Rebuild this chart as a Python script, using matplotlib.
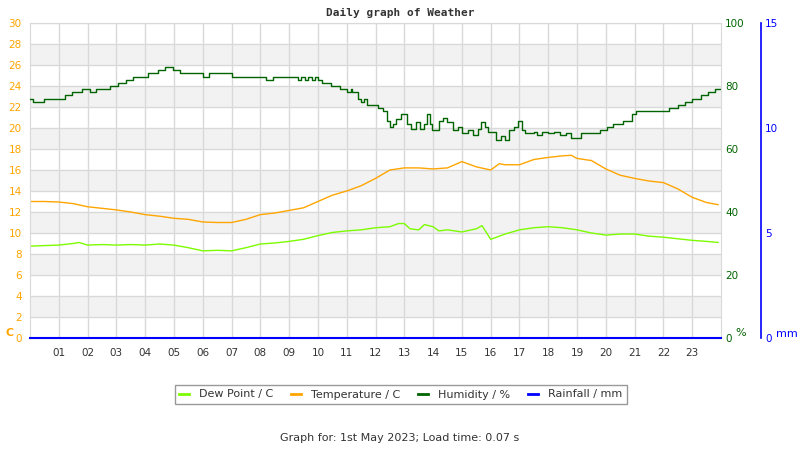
import matplotlib
matplotlib.use('Agg')
import matplotlib.pyplot as plt
from matplotlib.lines import Line2D

# dane
horas_temp = [0, 0.5, 1, 1.5, 2, 2.5, 3, 3.5, 4, 4.5, 5, 5.5, 6, 6.5, 7, 7.5, 8, 8.5,
              9, 9.5, 10, 10.5, 11, 11.5, 12, 12.5, 13, 13.5, 14, 14.5, 15, 15.5, 16,
              16.3, 16.5, 17, 17.5, 18, 18.5, 18.8, 19, 19.5, 20, 20.5, 21, 21.5, 22,
              22.5, 23, 23.5, 23.9]
temperatura = [13.0, 13.0, 12.95, 12.8, 12.5, 12.35, 12.2, 12.0, 11.75, 11.6, 11.4, 11.3,
               11.05, 11.0, 11.0, 11.3, 11.75, 11.9, 12.15, 12.4, 13.0, 13.6, 14.0, 14.5,
               15.2, 16.0, 16.2, 16.2, 16.1, 16.2, 16.8, 16.3, 16.0, 16.6, 16.5, 16.5,
               17.0, 17.2, 17.35, 17.4, 17.1, 16.9, 16.1, 15.5, 15.2, 14.95, 14.8, 14.2,
               13.4, 12.9, 12.7]

horas_rocio = [0, 0.5, 1, 1.5, 1.7, 2, 2.5, 3, 3.5, 4, 4.5, 5, 5.5, 6, 6.5, 7, 7.5, 8,
               8.5, 9, 9.5, 10, 10.5, 11, 11.5, 12, 12.5, 12.8, 13, 13.2, 13.5, 13.7, 14,
               14.2, 14.5, 15, 15.5, 15.7, 16, 16.5, 17, 17.5, 18, 18.5, 19, 19.5, 20,
               20.5, 21, 21.5, 22, 22.5, 23, 23.5, 23.9]
punto_rocio = [8.75, 8.8, 8.85, 9.0, 9.1, 8.85, 8.9, 8.85, 8.9, 8.85, 8.95, 8.85, 8.6,
               8.3, 8.35, 8.3, 8.6, 8.95, 9.05, 9.2, 9.4, 9.75, 10.05, 10.2, 10.3, 10.5,
               10.6, 10.9, 10.9, 10.4, 10.3, 10.8, 10.6, 10.2, 10.3, 10.1, 10.4, 10.7,
               9.4, 9.9, 10.3, 10.5, 10.6, 10.5, 10.3, 10.0, 9.8, 9.9, 9.9, 9.7, 9.6,
               9.45, 9.3, 9.2, 9.1]

horas_humedad = [0, 0.1, 0.5, 1.2, 1.47, 1.82, 2.1, 2.3, 2.78, 3.04, 3.32, 3.59, 4.11,
                 4.43, 4.69, 4.98, 5.21, 6.0, 6.2, 7.0, 8.2, 8.45, 9.3, 9.4, 9.55, 9.65,
                 9.8, 9.9, 10.0, 10.14, 10.44, 10.76, 11.0, 11.15, 11.2, 11.4, 11.5, 11.6,
                 11.7, 12.1, 12.25, 12.4, 12.5, 12.6, 12.7, 12.9, 13.1, 13.25, 13.4,
                 13.55, 13.7, 13.8, 13.9, 13.95, 14.2, 14.35, 14.5, 14.7, 14.85, 15.0,
                 15.2, 15.4, 15.55, 15.65, 15.8, 15.9, 16.2, 16.35, 16.5, 16.65, 16.8,
                 16.95, 17.1, 17.2, 17.5, 17.6, 17.8, 18.0, 18.2, 18.4, 18.6, 18.8,
                 19.15, 19.8, 20.05, 20.25, 20.6, 20.9, 21.05, 22.2, 22.5, 22.75, 23.0,
                 23.3, 23.55, 23.8, 24.0]
humedad = [76, 75, 76, 77, 78, 79, 78, 79, 80, 81, 82, 83, 84, 85, 86, 85, 84, 83, 84,
           83, 82, 83, 82, 83, 82, 83, 82, 83, 82, 81, 80, 79, 78, 79, 78, 76, 75, 76,
           74, 73, 72, 69, 67, 68, 69.5, 71, 68, 66.5, 68.5, 66.5, 68, 71, 68, 66, 69,
           70, 68.5, 66, 67, 65, 66, 64.5, 66.5, 68.5, 67, 65.5, 63, 64, 63, 66, 67,
           69, 66, 65, 65.5, 64.5, 65.5, 65, 65.5, 64.5, 65, 63.5, 65, 66, 67, 68, 69,
           71, 72, 73, 74, 75, 76, 77, 78, 79, 79]

horas_lluvia = [0, 6, 12, 18, 24]
lluvia = [0, 0, 0, 0, 0]

etiquetas_horas = ['%02d' % h for h in range(1, 24)]

NARANJA = '#ffa500'
VERDE_OSCURO = '#006400'
VERDE_CLARO = '#7cfc00'
AZUL = '#0000ff'
GRIS_TXT = '#333333'
GRILLA = '#d9d9d9'


def main():
    plt.rcParams['font.family'] = 'DejaVu Sans'
    fig = plt.figure(figsize=(8, 4.5), dpi=100)
    ax = fig.add_axes([30 / 800, 1 - 338 / 450, 691 / 800, 315 / 450])

    # bandas alternadas y grilla
    for y0 in range(2, 30, 4):
        ax.axhspan(y0, y0 + 2, color='#f2f2f2', zorder=0, lw=0)
    for y in range(2, 31, 2):
        ax.axhline(y, color=GRILLA, lw=1, zorder=0.5)
    for h in range(1, 24):
        ax.axvline(h, color=GRILLA, lw=1, zorder=0.5)

    ax.plot(horas_rocio, punto_rocio, color=VERDE_CLARO, lw=1, zorder=2)
    ax.plot(horas_temp, temperatura, color=NARANJA, lw=1, zorder=2)
    ax.set_xlim(0, 24)
    ax.set_ylim(0, 30)
    ax.set_yticks(range(0, 31, 2))
    ax.set_xticks(range(1, 24))
    ax.set_xticklabels(etiquetas_horas)
    ax.tick_params(axis='x', length=0, pad=7, labelsize=7.5, labelcolor=GRIS_TXT)
    ax.tick_params(axis='y', length=0, pad=6, labelsize=7.5, labelcolor=NARANJA)
    for lado in ['left', 'top', 'right', 'bottom']:
        ax.spines[lado].set_color(GRILLA)
    fig.text(5 / 800, 1 - 333 / 450, 'C', color=NARANJA, fontsize=8,
             fontweight='bold', va='center')

    ax2 = ax.twinx()
    ax2.step(horas_humedad, humedad, where='post', color=VERDE_OSCURO, lw=1, zorder=3)
    ax2.set_ylim(0, 100)
    ax2.set_yticks(range(0, 101, 20))
    ax2.tick_params(axis='y', length=0, pad=3, labelsize=7.5, labelcolor=VERDE_OSCURO)
    for lado in ['left', 'top', 'right', 'bottom']:
        ax2.spines[lado].set_visible(False)
    fig.text(735 / 800, 1 - 333 / 450, '%', color=VERDE_OSCURO, fontsize=8, va='center')

    ax3 = ax.twinx()
    ax3.plot(horas_lluvia, lluvia, color=AZUL, lw=1.5, zorder=4, clip_on=False)
    ax3.set_ylim(0, 15)
    ax3.set_yticks(range(0, 16, 5))
    ax3.spines['right'].set_position(('axes', (761 - 30) / 691))
    ax3.spines['right'].set_color(AZUL)
    ax3.spines['right'].set_linewidth(1.2)
    for lado in ['left', 'top', 'bottom']:
        ax3.spines[lado].set_visible(False)
    ax3.tick_params(axis='y', length=0, pad=3, labelsize=7.5, labelcolor=AZUL)
    fig.text(776 / 800, 1 - 334 / 450, 'mm', color=AZUL, fontsize=8, va='center')

    fig.text(0.5, 1 - 13 / 450, 'Daily graph of Weather', ha='center', va='center',
             family='DejaVu Sans Mono', fontweight='bold', fontsize=8, color=GRIS_TXT)

    handles = [Line2D([], [], color=VERDE_CLARO, lw=2),
               Line2D([], [], color=NARANJA, lw=2),
               Line2D([], [], color=VERDE_OSCURO, lw=2),
               Line2D([], [], color=AZUL, lw=2)]
    labels = ['Dew Point / C', 'Temperature / C', 'Humidity / %', 'Rainfall / mm']
    leg = fig.legend(handles, labels, loc='center', bbox_to_anchor=(401 / 800, 1 - 394.5 / 450),
                     ncol=4, fontsize=8, handlelength=0.9, handletextpad=0.9,
                     columnspacing=1.6, fancybox=False, borderpad=0.4, borderaxespad=0)
    leg.get_frame().set_edgecolor('#808080')
    leg.get_frame().set_linewidth(1)
    for t in leg.get_texts():
        t.set_color(GRIS_TXT)

    fig.text(0.5, 1 - 438 / 450, 'Graph for: 1st May 2023; Load time: 0.07 s',
             ha='center', va='center', fontsize=8, color=GRIS_TXT)

    fig.savefig('out.png', dpi=100)


if __name__ == '__main__':
    main()
